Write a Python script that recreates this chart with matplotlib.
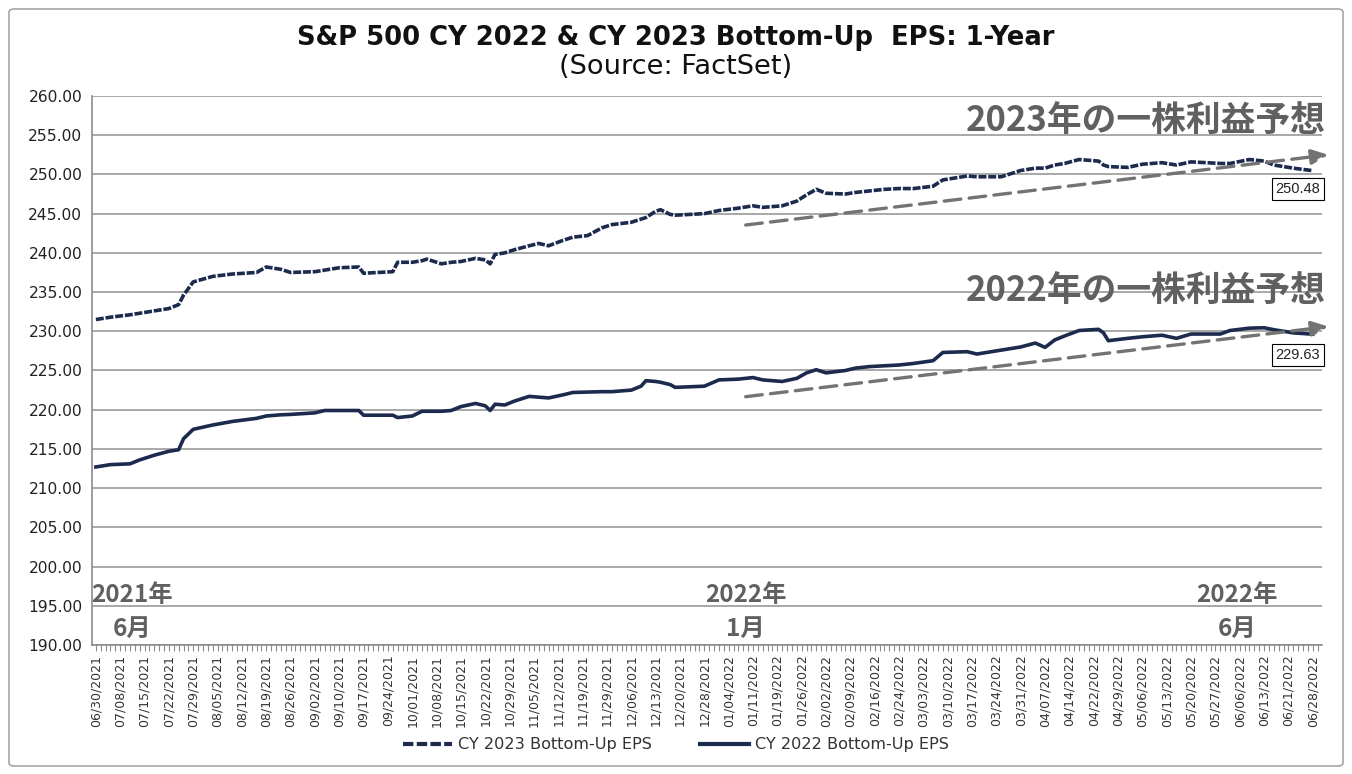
import matplotlib
matplotlib.use("Agg")
import matplotlib.pyplot as plt
from matplotlib.patches import FancyBboxPatch

# ---------------- data ----------------
tick_labels = ["06/30/2021", "07/08/2021", "07/15/2021", "07/22/2021", "07/29/2021",
               "08/05/2021", "08/12/2021", "08/19/2021", "08/26/2021", "09/02/2021",
               "09/10/2021", "09/17/2021", "09/24/2021", "10/01/2021", "10/08/2021",
               "10/15/2021", "10/22/2021", "10/29/2021", "11/05/2021", "11/12/2021",
               "11/19/2021", "11/29/2021", "12/06/2021", "12/13/2021", "12/20/2021",
               "12/28/2021", "01/04/2022", "01/11/2022", "01/19/2022", "01/26/2022",
               "02/02/2022", "02/09/2022", "02/16/2022", "02/24/2022", "03/03/2022",
               "03/10/2022", "03/17/2022", "03/24/2022", "03/31/2022", "04/07/2022",
               "04/14/2022", "04/22/2022", "04/29/2022", "05/06/2022", "05/13/2022",
               "05/20/2022", "05/27/2022", "06/06/2022", "06/13/2022", "06/21/2022",
               "06/28/2022"]

# trading-day number (0 = 06/30/2021) of each sampled observation
day = [0, 3, 7, 9, 12, 15, 17, 18, 20, 24, 28, 33, 35, 38, 40, 45, 47, 50, 54, 55,
       61, 62, 65, 67, 68, 71, 73, 75, 78, 80, 81, 82, 84, 86, 89, 91, 93, 96, 98, 101,
       104, 106, 110, 112, 113, 115, 116, 118, 119, 125, 128, 132, 135, 137, 141, 144, 146, 148, 150, 154,
       156, 159, 162, 165, 168, 172, 174, 179, 181, 186, 190, 193, 195, 197, 199, 202, 206, 207, 208, 212,
       215, 219, 222, 225, 231, 233, 237, 240, 242, 246, 250]

cy2023 = [231.5, 231.8, 232.1, 232.3, 232.6, 232.9, 233.4, 234.6, 236.3, 237.0, 237.3, 237.5, 238.2, 237.9, 237.5, 237.6, 237.8, 238.1, 238.2, 237.4,
          237.6, 238.8, 238.8, 239.0, 239.2, 238.6, 238.8, 238.9, 239.3, 239.1, 238.6, 239.8, 240.0, 240.4, 240.9, 241.2, 240.9, 241.6, 242.0, 242.2,
          243.2, 243.6, 243.9, 244.3, 244.5, 245.3, 245.5, 244.9, 244.8, 245.0, 245.4, 245.7, 246.0, 245.8, 246.0, 246.6, 247.4, 248.1, 247.6, 247.5,
          247.7, 247.9, 248.1, 248.2, 248.2, 248.5, 249.3, 249.8, 249.7, 249.7, 250.5, 250.8, 250.8, 251.2, 251.4, 251.9, 251.7, 251.2, 251.0, 250.9,
          251.3, 251.5, 251.2, 251.6, 251.4, 251.4, 251.9, 251.7, 251.2, 250.8, 250.48]

cy2022 = [212.7, 213.0, 213.1, 213.6, 214.2, 214.7, 214.9, 216.3, 217.5, 218.05, 218.5, 218.9, 219.2, 219.35, 219.4, 219.6, 219.9, 219.9, 219.9, 219.3,
          219.3, 219.0, 219.2, 219.8, 219.8, 219.8, 219.9, 220.4, 220.8, 220.5, 219.9, 220.7, 220.6, 221.1, 221.7, 221.6, 221.5, 221.9, 222.2, 222.25,
          222.3, 222.3, 222.5, 223.0, 223.7, 223.6, 223.5, 223.2, 222.85, 223.0, 223.8, 223.9, 224.1, 223.8, 223.6, 224.0, 224.7, 225.1, 224.7, 225.0,
          225.3, 225.5, 225.6, 225.7, 225.9, 226.25, 227.3, 227.4, 227.1, 227.6, 228.0, 228.5, 227.95, 228.9, 229.4, 230.1, 230.25, 229.8, 228.8, 229.1,
          229.3, 229.5, 229.1, 229.65, 229.65, 230.1, 230.4, 230.45, 230.2, 229.8, 229.63]

# trend arrows (start day, start value, end day, end value)
trend2023 = (133.5, 243.55, 253.2, 252.5)
trend2022 = (133.5, 221.66, 253.2, 230.6)

# ---------------- styling ----------------
navy = "#1c2a4e"
gray_txt = "#606060"
latin = ["DejaVu Sans"]
arial = ["Liberation Sans", "DejaVu Sans"]
cjk = ["Noto Sans CJK JP", "DejaVu Sans"]
plt.rcParams["font.family"] = latin

fig = plt.figure(figsize=(13.52, 7.74), dpi=100)
ax = fig.add_axes([92/1352, 1 - 645/774, (1322-92)/1352, (645-96)/774])

# outer rounded border
fig.patches.append(FancyBboxPatch((9/1352, 1 - 766/774), (1343-9)/1352, (766-9)/774,
                                  boxstyle="round,pad=0,rounding_size=0.004",
                                  transform=fig.transFigure, fill=False,
                                  edgecolor="#a6a6a6", linewidth=1.2))

ax.plot(day, cy2023, color=navy, lw=2.6, linestyle=(0, (2.2, 0.5)),
        label="CY 2023 Bottom-Up EPS", solid_capstyle="butt", zorder=3)
ax.plot(day, cy2022, color=navy, lw=2.6, label="CY 2022 Bottom-Up EPS", zorder=3)

for t in (trend2023, trend2022):
    ax.annotate("", xy=(t[2], t[3]), xytext=(t[0], t[1]), xycoords="data",
                annotation_clip=False,
                arrowprops=dict(arrowstyle="-|>,head_length=1.0,head_width=0.45",
                                color="#737373", lw=2.4, linestyle=(0, (5, 2.5)),
                                shrinkA=0, shrinkB=0), zorder=4)

ax.set_ylim(190, 260)
ax.set_xlim(-0.8, 251.9)
ax.set_yticks(range(190, 261, 5))
ax.set_yticklabels([f"{v:.2f}" for v in range(190, 261, 5)])
ax.set_xticks(range(0, 5 * len(tick_labels), 5))
ax.set_xticklabels(tick_labels, rotation=90, fontsize=9.0, color="#333333")
ax.set_xticks(range(0, 252), minor=True)
ax.tick_params(axis="x", which="both", length=4, color="#8c8c8c", width=0.8, pad=3)
ax.tick_params(axis="y", length=0, labelsize=11.2, labelcolor="#222222", pad=7)

ax.grid(axis="y", color="#9a9a9a", lw=1.2)
ax.set_axisbelow(True)
for s in ("top", "right"):
    ax.spines[s].set_visible(False)
for s in ("left", "bottom"):
    ax.spines[s].set_color("#8c8c8c")
    ax.spines[s].set_linewidth(1.2)

# last-value labels
box = dict(boxstyle="square,pad=0.25", facecolor="white", edgecolor="black", lw=0.8)
ax.text(246.9, 248.14, f"{cy2023[-1]:.2f}", ha="center", va="center", fontsize=10.5,
        color="#222222", bbox=box, family=arial, clip_on=False, zorder=5)
ax.text(246.9, 226.98, f"{cy2022[-1]:.2f}", ha="center", va="center", fontsize=10.5,
        color="#222222", bbox=box, family=arial, clip_on=False, zorder=5)

# Japanese annotations
ax.text(252.6, 256.8, "2023年の一株利益予想", ha="right", va="center", fontsize=25,
        fontweight="bold", color=gray_txt, family=cjk, clip_on=False, zorder=5)
ax.text(252.6, 235.1, "2022年の一株利益予想", ha="right", va="center", fontsize=25,
        fontweight="bold", color=gray_txt, family=cjk, clip_on=False, zorder=5)

for xc, yr, mo in ((7.4, "2021年", "6月"), (133.5, "2022年", "1月"), (234.4, "2022年", "6月")):
    ax.text(xc, 196.35, yr, ha="center", va="center", fontsize=17.5, fontweight="bold",
            color=gray_txt, family=cjk, zorder=5)
    ax.text(xc, 192.1, mo, ha="center", va="center", fontsize=17.5, fontweight="bold",
            color=gray_txt, family=cjk, zorder=5)

# titles
fig.text(0.5, 1 - 38/774, "S&P 500 CY 2022 & CY 2023 Bottom-Up  EPS: 1-Year",
         ha="center", va="center", fontsize=18.6, fontweight="bold", color="#111111")
fig.text(0.5, 1 - 67/774, "(Source: FactSet)", ha="center", va="center",
         fontsize=19.6, color="#111111")

leg = fig.legend(loc="center", bbox_to_anchor=(0.5, 1 - 745/774), ncol=2, frameon=False,
                 fontsize=11.6, handlelength=3.0, columnspacing=3.0, handletextpad=0.4)
for h in leg.get_lines():
    h.set_linewidth(3)
leg.get_lines()[0].set_linestyle((0, (2.5, 0.8)))
for t in leg.get_texts():
    t.set_color("#333333")

fig.savefig("out.png", dpi=100)
